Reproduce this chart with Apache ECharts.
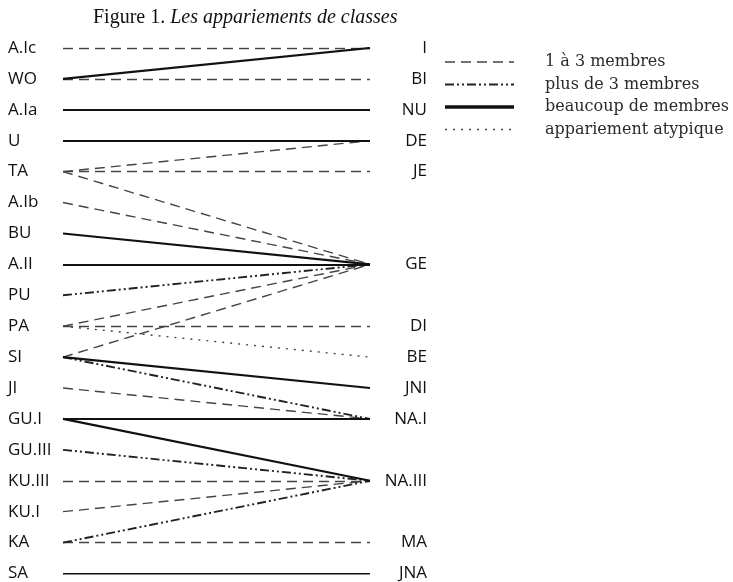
<!DOCTYPE html>
<html lang="fr">
<head>
    <meta charset="UTF-8">
    <title>Les appariements de classes</title>
    <script src="https://cdn.jsdelivr.net/npm/echarts@6/dist/echarts.min.js"></script>
    <style>
        html, body { margin: 0; padding: 0; background: #fff; }
        #chart-container { width: 733px; height: 582px; }
    </style>
</head>
<body>
    <div id="chart-container"></div>
    <script>
        // left-hand classes, top to bottom
        var leftClasses = ['A.Ic', 'WO', 'A.Ia', 'U', 'TA', 'A.Ib', 'BU', 'A.II', 'PU', 'PA',
            'SI', 'JI', 'GU.I', 'GU.III', 'KU.III', 'KU.I', 'KA', 'SA'];
        // right-hand classes, placed on the same row grid ('' = empty row)
        var rightClasses = ['I', 'BI', 'NU', 'DE', 'JE', '', '', 'GE', '', 'DI',
            'BE', 'JNI', 'NA.I', '', 'NA.III', '', 'MA', 'JNA'];

        // pairings [left, right] per kind of link
        var fewLinks = [['A.Ic', 'I'], ['WO', 'BI'], ['TA', 'DE'], ['TA', 'JE'], ['TA', 'GE'],
            ['A.Ib', 'GE'], ['PA', 'GE'], ['PA', 'DI'], ['SI', 'GE'], ['JI', 'NA.I'],
            ['KU.III', 'NA.III'], ['KU.I', 'NA.III'], ['KA', 'MA']];
        var moreLinks = [['PU', 'GE'], ['SI', 'NA.I'], ['GU.III', 'NA.III'], ['KA', 'NA.III']];
        var manyLinks = [['WO', 'I'], ['A.Ia', 'NU'], ['U', 'DE'], ['BU', 'GE'], ['A.II', 'GE'],
            ['SI', 'JNI'], ['GU.I', 'NA.I'], ['GU.I', 'NA.III'], ['SA', 'JNA']];
        var oddLinks = [['PA', 'BE']];

        var legendNames = ['1 à 3 membres', 'plus de 3 membres', 'beaucoup de membres', 'appariement atypique'];

        var styles = [
            { color: '#444', width: 1.4, type: [10, 6] },
            { color: '#222', width: 1.9, type: [9, 3, 2, 3, 2, 3] },
            { color: '#111', width: 2.2, type: 'solid' },
            { color: '#444', width: 1.4, type: [2, 6] }
        ];

        function toCoords(links) {
            return links.map(function (l) {
                return { coords: [[0, leftClasses.indexOf(l[0])], [1, rightClasses.indexOf(l[1])]] };
            });
        }

        var linkSets = [fewLinks, moreLinks, manyLinks, oddLinks];
        var series = linkSets.map(function (links, i) {
            return {
                name: legendNames[i],
                type: 'lines',
                coordinateSystem: 'cartesian2d',
                silent: true,
                z: i === 2 ? 3 : 2,
                lineStyle: { color: styles[i].color, width: styles[i].width, type: styles[i].type, opacity: 1, curveness: 0 },
                data: toCoords(links)
            };
        });

        var labelFont = '"Open Sans", "DejaVu Sans", sans-serif';
        var legendFont = '"DejaVu Serif", "Liberation Serif", serif';

        // legend drawn by hand so the dash patterns show
        var legendGraphics = [];
        legendNames.forEach(function (name, i) {
            var y = 62 + i * 22.5;
            legendGraphics.push({
                type: 'line',
                shape: { x1: 445, y1: y, x2: 514, y2: y },
                style: { stroke: styles[i].color, lineWidth: i === 2 ? 3.5 : styles[i].width + 0.3, lineDash: styles[i].type === 'solid' ? null : styles[i].type }
            });
            legendGraphics.push({
                type: 'text',
                x: 545, y: y,
                style: { text: name, font: '16px ' + legendFont, fill: '#2a2a2a', verticalAlign: 'middle' }
            });
        });

        var myChart = echarts.init(document.getElementById('chart-container'));

        var option = {
            animation: false,
            backgroundColor: '#fff',
            title: {
                text: '{n|Figure 1. }{i|Les appariements de classes}',
                left: 88,
                top: 3,
                textStyle: {
                    rich: {
                        n: { fontFamily: '"Liberation Serif", serif', fontSize: 20, fontWeight: 'normal', color: '#111' },
                        i: { fontFamily: '"Liberation Serif", serif', fontSize: 20, fontWeight: 'normal', fontStyle: 'italic', color: '#111' }
                    }
                }
            },
            grid: { left: 63, right: 363, top: 48, bottom: 7 },
            xAxis: {
                type: 'value', min: 0, max: 1,
                show: false
            },
            yAxis: [{
                type: 'category',
                data: leftClasses,
                inverse: true,
                boundaryGap: false,
                position: 'left',
                axisLine: { show: false },
                axisTick: { show: false },
                splitLine: { show: false },
                axisLabel: { align: 'left', margin: 55, fontSize: 17, color: '#111', fontFamily: labelFont, interval: 0 }
            }, {
                type: 'category',
                data: rightClasses,
                inverse: true,
                boundaryGap: false,
                position: 'right',
                axisLine: { show: false },
                axisTick: { show: false },
                splitLine: { show: false },
                axisLabel: { align: 'right', margin: 57, fontSize: 17, color: '#111', fontFamily: labelFont, interval: 0 }
            }],
            graphic: legendGraphics,
            series: series
        };

        myChart.setOption(option);
    </script>
</body>
</html>
